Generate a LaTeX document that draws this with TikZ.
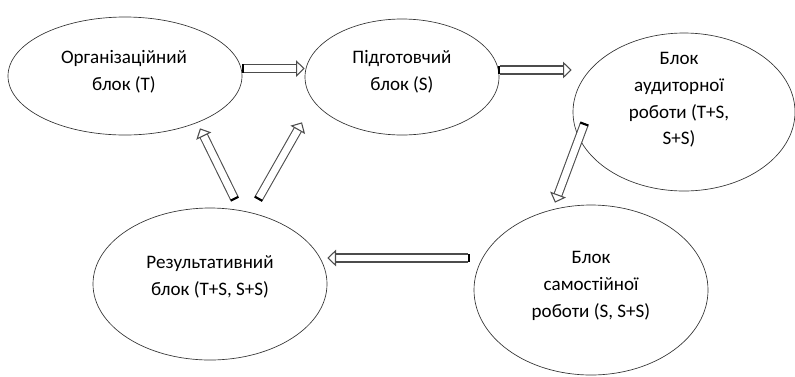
\documentclass[tikz,border=0pt]{standalone}
\usepackage{fontspec}
\setmainfont{Carlito}
\usetikzlibrary{shapes.geometric,arrows.meta}

\begin{document}
\begin{tikzpicture}[x=0.75pt,y=-0.75pt,
    blok/.style={ellipse,draw=black!80,line width=0.5pt,inner sep=0pt},
    napys/.style={align=center,inner sep=0pt,font=\fontsize{14.3}{20}\selectfont},
    strilka/.style={draw=black!70,line width=0.8pt,double=white,
        double distance=5.2pt,
        {Rectangle[length=1.6pt,width=6.6pt,black]}-{Triangle[open,length=6.5pt,width=12.5pt]}}]
    \useasboundingbox (0,0) rectangle (795,376);

    % Blocks
    \node[blok,minimum width=175.5pt,minimum height=88.5pt] (org) at (125,76) {};
    \node[blok,minimum width=145.5pt,minimum height=87pt] (pidg) at (402,77) {};
    \node[blok,minimum width=166.5pt,minimum height=118.5pt] (aud) at (684,112) {};
    \node[blok,minimum width=175.5pt,minimum height=114pt] (rez) at (210,284) {};
    \node[blok,minimum width=175.5pt,minimum height=127.5pt] (samost) at (591,290) {};

    % Texts of the blocks
    \node[napys] (orgT) at (124,72) {Організаційний\\блок (T)};
    \node[napys] (pidgT) at (402,72) {Підготовчий\\блок (S)};
    \node[napys] (audT) at (679,100) {Блок\\аудиторної\\роботи (T+S,\\S+S)};
    \node[napys] (rezT) at (210,277) {Результативний\\блок (T+S, S+S)};
    \node[napys] (samostT) at (591,286) {Блок\\самостійної\\роботи (S, S+S)};

    % Arrows between the blocks
    \draw[strilka] ([yshift=5.6pt]org.east) -- ([yshift=5.6pt]org.east -| pidg.west);
    \draw[strilka] ([shift={(-1,-7)}]pidg.east) -- ([shift={(-1,-7)}]pidg.east -| aud.west);
    \draw[strilka] ([shift={(12,11)}]aud.west) -- ([shift={(-36,-2)}]samost.north);
    \coordinate (s4) at ([shift={(-4,-32)}]samost.west);
    \draw[strilka] (s4) -- (s4 -| rez.east);

    % Feedback arrows from the result block
    \draw[strilka] ([shift={(25,-8)}]rez.north) -- ([shift={(75,-7)}]org.south);
    \draw[strilka] ([shift={(48,-8)}]rez.north) -- ([shift={(-100,-13)}]pidg.south);
\end{tikzpicture}
\end{document}
